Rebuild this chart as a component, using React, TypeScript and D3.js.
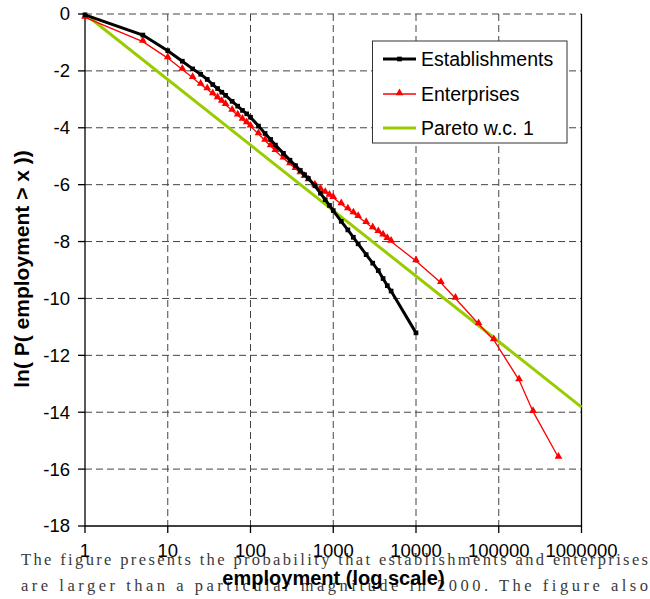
import React from 'react';
import * as d3 from 'd3';

// employment thresholds (shared by both series)
const sizes = [1, 5, 10, 15, 20, 25, 30, 35, 40, 45, 50, 60, 70, 80, 90, 100, 125, 150, 175, 200, 250, 300,
  350, 400, 450, 500, 600, 700, 800, 900, 1000, 1250, 1500, 1750, 2000, 2500, 3000, 3500, 4000, 4500, 5000, 10000];
const establishments = [-0.03, -0.74, -1.29, -1.66, -1.93, -2.12, -2.3, -2.48, -2.62, -2.75, -2.86, -3.07, -3.24,
  -3.39, -3.51, -3.63, -3.94, -4.2, -4.41, -4.61, -4.9, -5.14, -5.33, -5.5, -5.65, -5.78, -6.04, -6.3, -6.53,
  -6.73, -6.91, -7.29, -7.59, -7.85, -8.08, -8.46, -8.76, -9.02, -9.3, -9.55, -9.74, -11.21];
const enterpriseSizes = [...sizes, 20000, 30000, 57000, 87000, 176000, 260000, 527000];
const enterprises = [-0.12, -0.97, -1.55, -1.95, -2.24, -2.48, -2.64, -2.81, -2.95, -3.08, -3.19, -3.39, -3.56,
  -3.71, -3.83, -3.95, -4.22, -4.45, -4.64, -4.81, -5.07, -5.27, -5.44, -5.59, -5.72, -5.84, -6.02, -6.16, -6.28,
  -6.38, -6.46, -6.68, -6.86, -7.0, -7.13, -7.34, -7.52, -7.66, -7.78, -7.9, -8.0, -8.68,
  -9.45, -10.0, -10.9, -11.46, -12.87, -13.98, -15.59];
const paretoX = [1, 1000000];
const paretoY = [0, -13.82];

const xTicks = [1, 10, 100, 1000, 10000, 100000, 1000000];
const yTicks = [0, -2, -4, -6, -8, -10, -12, -14, -16, -18];
const legendNames = ['Establishments', 'Enterprises', 'Pareto w.c. 1'];

const captionLines = [
  'The figure presents the  probability that  establishments and  enterprises',
  'are larger than a particular magnitude in 2000. The figure also',
];

const W = 650, H = 599;
const left = 85, right = 581.5, top = 14, bottom = 526;
const sans = '"Liberation Sans", Arial, sans-serif';

export default function App() {
  const x = d3.scaleLog().domain([1, 1000000]).range([left, right]);
  const y = d3.scaleLinear().domain([-18, 0]).range([bottom, top]);

  const line = d3.line<[number, number]>().x(d => x(d[0])).y(d => y(d[1]));
  const estPts: [number, number][] = sizes.map((s, i) => [s, establishments[i]]);
  const entPts: [number, number][] = enterpriseSizes.map((s, i) => [s, enterprises[i]]);
  const parPts: [number, number][] = paretoX.map((s, i) => [s, paretoY[i]]);

  const square = d3.symbol().type(d3.symbolSquare).size(22)()!;
  const tri = d3.symbol().type(d3.symbolTriangle).size(26)()!;

  const legY = [59, 94, 128];

  return (
    <svg width={W} height={H} style={{ position: 'absolute', left: 0, top: 0, background: '#fff' }}>
      {/* caption text behind the chart labels */}
      <g fontFamily='"Liberation Serif", "DejaVu Serif", serif' fontSize={16.5} fill="#3a3a3a">
        <text x={21} y={565} textLength={627} lengthAdjust="spacing">{captionLines[0]}</text>
        <text x={21} y={591} textLength={627} lengthAdjust="spacing">{captionLines[1]}</text>
      </g>

      {/* grid */}
      <g stroke="#444" strokeWidth={1} strokeDasharray="7,4" fill="none">
        {yTicks.filter(t => t > -18).map(t => (
          <line key={'h' + t} x1={left} x2={right} y1={y(t)} y2={y(t)} />
        ))}
        {xTicks.slice(1, -1).map(t => (
          <line key={'v' + t} x1={x(t)} x2={x(t)} y1={top} y2={bottom} />
        ))}
      </g>

      {/* axes */}
      <g stroke="#000" strokeWidth={1.3}>
        <line x1={left} x2={left} y1={top} y2={bottom} />
        <line x1={left} x2={right} y1={bottom} y2={bottom} />
        <line x1={right} x2={right} y1={top} y2={bottom} />
        {yTicks.map(t => <line key={'yt' + t} x1={left - 7} x2={left} y1={y(t)} y2={y(t)} />)}
        {xTicks.map(t => <line key={'xt' + t} x1={x(t)} x2={x(t)} y1={bottom} y2={bottom + 7} />)}
      </g>
      <g fontFamily={sans} fontSize={18.5} fill="#000">
        {yTicks.map(t => (
          <text key={'yl' + t} x={70} y={y(t)} dy="0.35em" textAnchor="end">{t}</text>
        ))}
        {xTicks.map(t => (
          <text key={'xl' + t} x={x(t)} y={557} textAnchor="middle">{t}</text>
        ))}
      </g>

      {/* series */}
      <path d={line(parPts)!} fill="none" stroke="#99cc00" strokeWidth={3} />
      <path d={line(entPts)!} fill="none" stroke="#ff0000" strokeWidth={1.3} />
      {entPts.map((p, i) => (
        <path key={'e' + i} d={tri} transform={`translate(${x(p[0])},${y(p[1]) - 1})`} fill="#ff0000" />
      ))}
      <path d={line(estPts)!} fill="none" stroke="#000" strokeWidth={3} />
      {estPts.map((p, i) => (
        <path key={'s' + i} d={square} transform={`translate(${x(p[0])},${y(p[1])})`} fill="#000" />
      ))}

      {/* legend */}
      <rect x={372.5} y={41} width={194.5} height={102} fill="#fff" stroke="#333" strokeWidth={1} />
      <line x1={383} x2={416} y1={legY[0]} y2={legY[0]} stroke="#000" strokeWidth={3} />
      <path d={square} transform={`translate(399.5,${legY[0]})`} fill="#000" />
      <line x1={383} x2={416} y1={legY[1]} y2={legY[1]} stroke="#ff0000" strokeWidth={1.3} />
      <path d={tri} transform={`translate(399.5,${legY[1] - 1})`} fill="#ff0000" />
      <line x1={383} x2={416} y1={legY[2]} y2={legY[2]} stroke="#99cc00" strokeWidth={3} />
      <g fontFamily={sans} fontSize={19.5} fill="#000">
        {legendNames.map((n, i) => (
          <text key={n} x={421} y={legY[i]} dy="0.36em">{n}</text>
        ))}
      </g>

      {/* axis titles */}
      <text x={333.5} y={585} textAnchor="middle" fontFamily={sans} fontWeight="bold" fontSize={20} fill="#000">
        employment (log scale)
      </text>
      <text transform="translate(29,269) rotate(-90)" textAnchor="middle" fontFamily={sans} fontWeight="bold"
        fontSize={21} fill="#000">
        ln( P( employment &gt; x ))
      </text>
    </svg>
  );
}
